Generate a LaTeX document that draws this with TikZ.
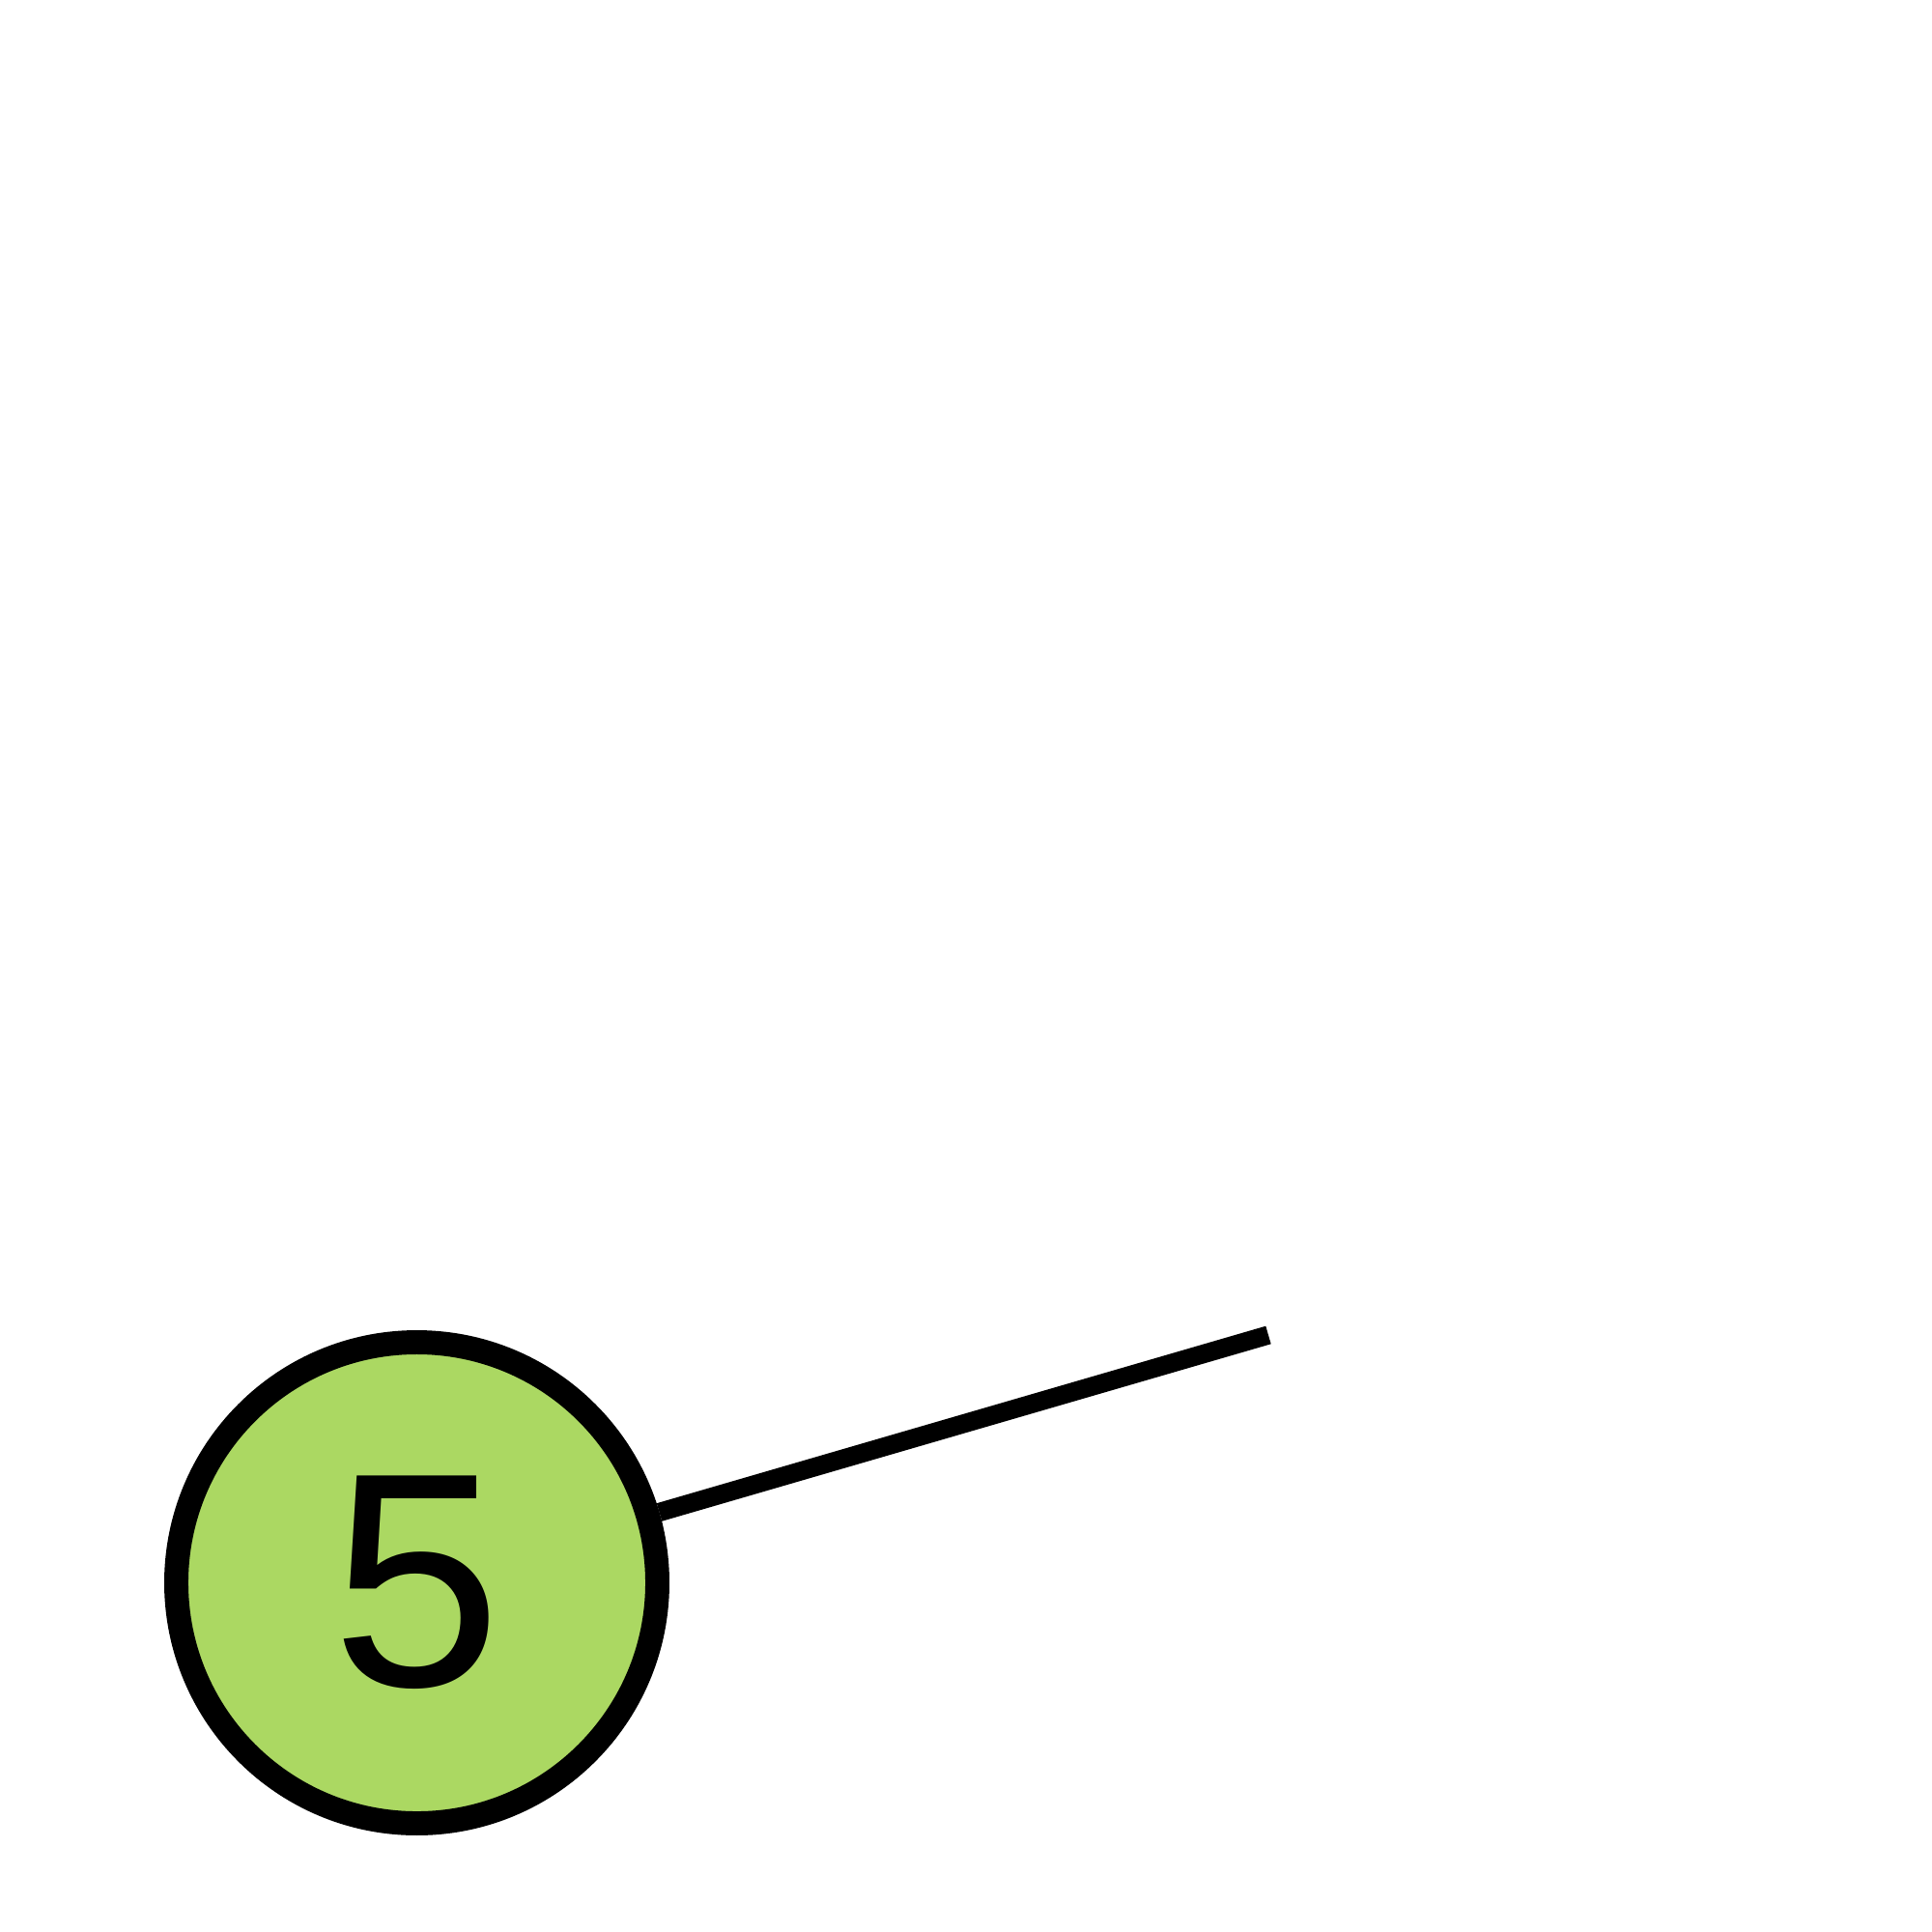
\documentclass[tikz,border=0pt]{standalone}
\usepackage{fontspec}
\setmainfont{Liberation Sans}
\usetikzlibrary{
  positioning,
  calc}
\definecolor{nodecolor}{RGB}{171,216,98}
\tikzset{
  %% vertex : a numbered node of the graph
  vertex/.style={
    circle,
    draw=black,
    fill=nodecolor,
    line width=7.1pt,
    minimum size=4.98cm,
    inner sep=0pt,
    font=\fontsize{90}{90}\selectfont,
    align=center
  },
  %% link : connection between nodes
  link/.style={black, line width=5.5pt}
}
\begin{document}
\begin{tikzpicture}
  [x=1cm,
  y=-1cm]

  %% Frame of the figure
  \useasboundingbox (0, 0) rectangle (20, 20);

  %% Nodes
  \node (five) [vertex] at (4.315, 16.385) {5};
  \coordinate (away) at (13.13, 13.82);

  %% Connections
  \draw [link] (five) -- (away);

\end{tikzpicture}
\end{document}
